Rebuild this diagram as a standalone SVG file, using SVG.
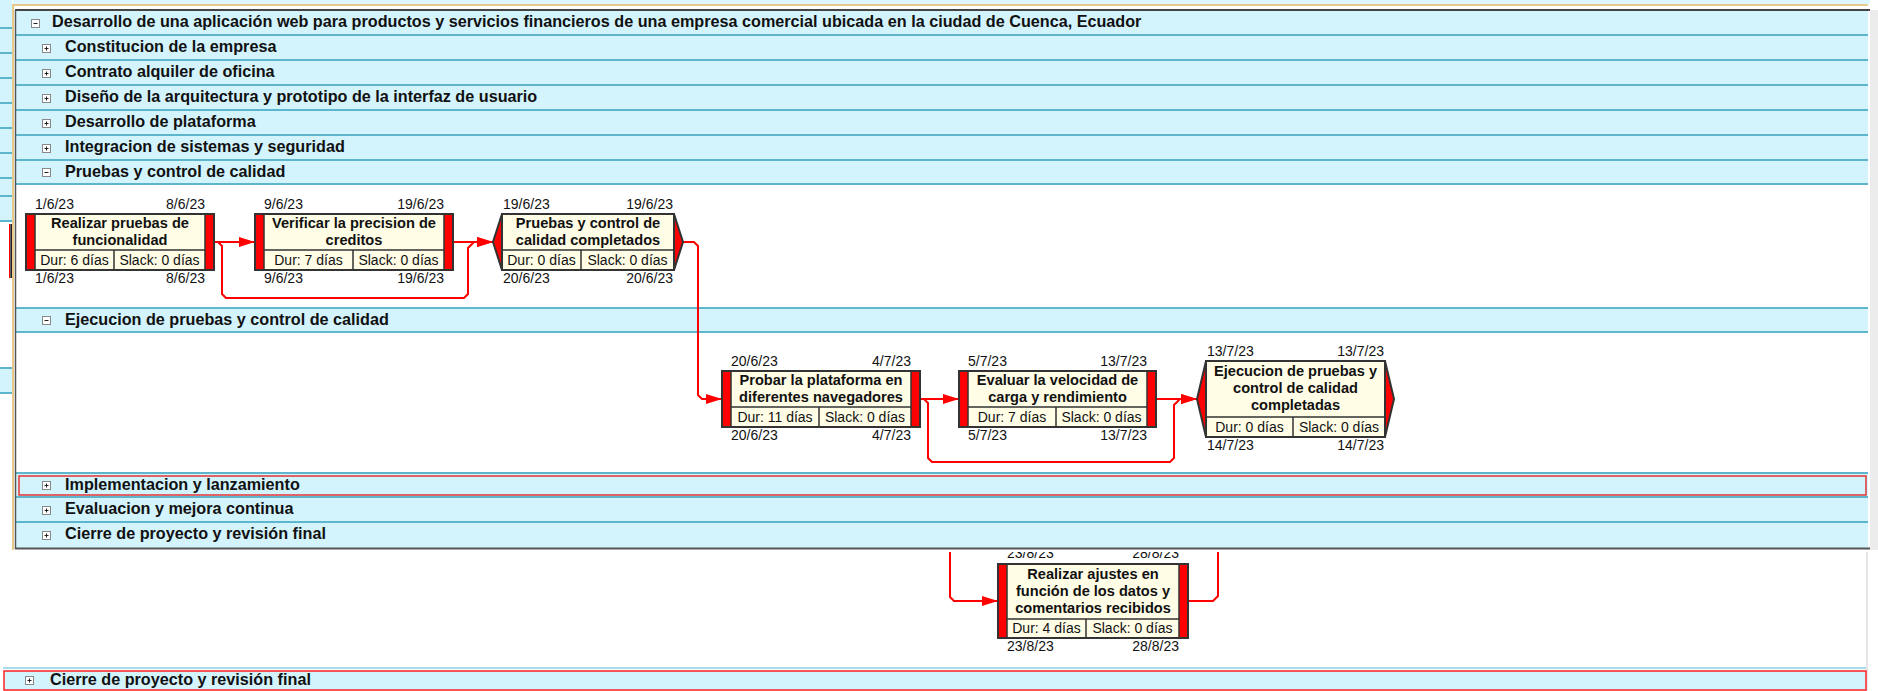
<svg xmlns="http://www.w3.org/2000/svg" width="1878" height="691" viewBox="0 0 1878 691">
<style>
.row{fill:#D3F4FD}
.sep{stroke:#5DB5CE;stroke-width:2;fill:none}
.lbl{font-family:"Liberation Sans",Arial,sans-serif;font-weight:bold;font-size:16.2px;fill:#111}
.box{fill:#FFFDE6;stroke:#333;stroke-width:2}
.frame{fill:none;stroke:#333;stroke-width:2}
.band{fill:#FF0000}
.ln{stroke:#333;stroke-width:1.5}
.ttl{font-family:"Liberation Sans",Arial,sans-serif;font-weight:bold;font-size:14.6px;fill:#111;text-anchor:middle}
.dt{font-family:"Liberation Sans",Arial,sans-serif;font-size:14px;fill:#111}
.r{text-anchor:end}
.c{text-anchor:middle}
.conn{fill:none;stroke:#FF0000;stroke-width:2}
</style>
<defs>
<marker id="ah" viewBox="0 0 16 10" refX="16" refY="5" markerWidth="16" markerHeight="10" markerUnits="userSpaceOnUse" orient="auto"><path d="M0,0 L16,5 L0,10 z" fill="#FF0000"/></marker>
<g id="plus"><rect x="0.5" y="0.5" width="8" height="8" fill="#fff" stroke="#888" stroke-width="1"/><path d="M2.5,4.5 H6.5 M4.5,2.5 V6.5" stroke="#222" stroke-width="1"/></g>
<g id="minus"><rect x="0.5" y="0.5" width="8" height="8" fill="#fff" stroke="#888" stroke-width="1"/><path d="M2.5,4.5 H6.5" stroke="#222" stroke-width="1"/></g>
<clipPath id="below"><rect x="0" y="552" width="1878" height="139"/></clipPath>
</defs>

<g id="background">
<rect x="0" y="0" width="1878" height="691" fill="#fff"/>
<rect x="13" y="0" width="1857" height="4" fill="#DDF5FC"/>
<rect x="0" y="0" width="12" height="221" fill="#D3F4FD"/>
<path d="M0,28 H12 M0,53 H12 M0,78 H12 M0,103 H12 M0,128 H12 M0,153 H12 M0,178 H12 M0,196 H12 M0,221 H12" class="sep"/>
<rect x="0" y="368" width="12" height="25" fill="#D3F4FD"/>
<path d="M0,368 H12 M0,393 H12" class="sep"/>
<path d="M9.5,224 V278" stroke="#FF0000" stroke-width="1"/>
<path d="M11.3,224 V278" stroke="#222" stroke-width="2"/>
<rect x="1870" y="10" width="8" height="540" fill="#ECECEC"/>
<path d="M1867,552 V691" stroke="#E6E6E6" stroke-width="2"/>
</g>

<g id="panel">
<rect x="15" y="10" width="1853" height="174" class="row"/>
<rect x="15" y="184" width="1853" height="124" fill="#fff"/>
<rect x="15" y="308" width="1853" height="24" class="row"/>
<rect x="15" y="332" width="1853" height="141" fill="#fff"/>
<rect x="15" y="473" width="1853" height="75" class="row"/>
<path d="M15,35 H1868 M15,60 H1868 M15,85 H1868 M15,110 H1868 M15,135 H1868 M15,160 H1868 M15,184 H1868 M15,308 H1868 M15,332 H1868 M15,473 H1868 M15,497 H1868 M15,522 H1868" class="sep"/>
<rect x="19" y="476" width="1847" height="19" fill="none" stroke="#E53333" stroke-width="1.5"/>
<path d="M13,5 H1868" stroke="#E8C98A" stroke-width="2"/>
<path d="M13,4 V550" stroke="#E8C98A" stroke-width="2"/>
<path d="M15,10 H1870" stroke="#444" stroke-width="2"/>
<path d="M15.5,10 V549" stroke="#555" stroke-width="1.5"/>
<path d="M15,548.5 H1870" stroke="#555" stroke-width="2"/>
</g>

<g id="row-proyecto"><use href="#minus" x="31" y="19"/><text x="52" y="27" class="lbl">Desarrollo de una aplicación web para productos y servicios financieros de una empresa comercial ubicada en la ciudad de Cuenca, Ecuador</text></g>
<g id="row-constitucion"><use href="#plus" x="42" y="44"/><text x="65" y="52" class="lbl">Constitucion de la empresa</text></g>
<g id="row-contrato"><use href="#plus" x="42" y="69"/><text x="65" y="77" class="lbl">Contrato alquiler de oficina</text></g>
<g id="row-diseno"><use href="#plus" x="42" y="94"/><text x="65" y="102" class="lbl">Diseño de la arquitectura y prototipo de la interfaz de usuario</text></g>
<g id="row-desarrollo"><use href="#plus" x="42" y="119"/><text x="65" y="127" class="lbl">Desarrollo de plataforma</text></g>
<g id="row-integracion"><use href="#plus" x="42" y="144"/><text x="65" y="152" class="lbl">Integracion de sistemas y seguridad</text></g>
<g id="row-pruebas"><use href="#minus" x="42" y="168"/><text x="65" y="177" class="lbl">Pruebas y control de calidad</text></g>
<g id="row-ejecucion"><use href="#minus" x="42" y="316"/><text x="65" y="325" class="lbl">Ejecucion de pruebas y control de calidad</text></g>
<g id="row-implementacion"><use href="#plus" x="42" y="481"/><text x="65" y="490" class="lbl">Implementacion y lanzamiento</text></g>
<g id="row-evaluacion"><use href="#plus" x="42" y="506"/><text x="65" y="514" class="lbl">Evaluacion y mejora continua</text></g>
<g id="row-cierre"><use href="#plus" x="42" y="531"/><text x="65" y="539" class="lbl">Cierre de proyecto y revisión final</text></g>

<g id="row-cierre-bottom">
<path d="M3,668 H1866" stroke="#A9DCEB" stroke-width="2"/>
<rect x="4" y="671" width="1862" height="19" class="row" stroke="#FF2020" stroke-width="1.5"/>
<use href="#plus" x="25" y="676"/>
<text x="50" y="685" class="lbl">Cierre de proyecto y revisión final</text>
</g>

<g id="connectors">
<path d="M214,242 H255" class="conn" marker-end="url(#ah)"/>
<path d="M214,242 H218 L222,246 V294 L226,298 H464 L468,294 V248 L474,242 H493" class="conn" marker-end="url(#ah)"/>
<path d="M453,242 H493" class="conn" marker-end="url(#ah)"/>
<path d="M683,242 H694 L698,246 V395 L702,399 H722" class="conn" marker-end="url(#ah)"/>
<path d="M920,399 H959" class="conn" marker-end="url(#ah)"/>
<path d="M920,399 H924 L928,403 V458 L932,462 H1170 L1174,458 V405 L1180,399 H1197" class="conn" marker-end="url(#ah)"/>
<path d="M1156,399 H1197" class="conn" marker-end="url(#ah)"/>
<path d="M950,552 V597 L954,601 H998" class="conn" marker-end="url(#ah)"/>
<path d="M1188,601 H1213 L1218,596 V552" class="conn"/>
</g>

<g id="node-realizar-pruebas">
<rect x="26" y="214" width="188" height="56" class="box"/>
<rect x="26" y="214" width="9" height="56" class="band"/>
<rect x="205" y="214" width="9" height="56" class="band"/>
<path d="M35,250 H205 M114,250 V270 M35,214 V270 M205,214 V270" class="ln"/>
<rect x="26" y="214" width="188" height="56" class="frame"/>
<text x="120" y="228" class="ttl">Realizar pruebas de</text>
<text x="120" y="245" class="ttl">funcionalidad</text>
<text x="74.5" y="265" class="dt c">Dur: 6 días</text>
<text x="159.5" y="265" class="dt c">Slack: 0 días</text>
<text x="35" y="209" class="dt">1/6/23</text><text x="205" y="209" class="dt r">8/6/23</text>
<text x="35" y="283" class="dt">1/6/23</text><text x="205" y="283" class="dt r">8/6/23</text>
</g>

<g id="node-verificar">
<rect x="255" y="214" width="198" height="56" class="box"/>
<rect x="255" y="214" width="9" height="56" class="band"/>
<rect x="444" y="214" width="9" height="56" class="band"/>
<path d="M264,250 H444 M353,250 V270 M264,214 V270 M444,214 V270" class="ln"/>
<rect x="255" y="214" width="198" height="56" class="frame"/>
<text x="354" y="228" class="ttl">Verificar la precision de</text>
<text x="354" y="245" class="ttl">creditos</text>
<text x="308.5" y="265" class="dt c">Dur: 7 días</text>
<text x="398.5" y="265" class="dt c">Slack: 0 días</text>
<text x="264" y="209" class="dt">9/6/23</text><text x="444" y="209" class="dt r">19/6/23</text>
<text x="264" y="283" class="dt">9/6/23</text><text x="444" y="283" class="dt r">19/6/23</text>
</g>

<g id="node-pruebas-completados">
<polygon points="502,214 674,214 683,242 674,270 502,270 493,242" fill="#FF0000" stroke="#333" stroke-width="2"/>
<rect x="502" y="214" width="172" height="56" class="box"/>
<path d="M502,250 H674 M581,250 V270" class="ln"/>
<text x="588" y="228" class="ttl">Pruebas y control de</text>
<text x="588" y="245" class="ttl">calidad completados</text>
<text x="541.5" y="265" class="dt c">Dur: 0 días</text>
<text x="627.5" y="265" class="dt c">Slack: 0 días</text>
<text x="503" y="209" class="dt">19/6/23</text><text x="673" y="209" class="dt r">19/6/23</text>
<text x="503" y="283" class="dt">20/6/23</text><text x="673" y="283" class="dt r">20/6/23</text>
</g>

<g id="node-probar">
<rect x="722" y="371" width="198" height="56" class="box"/>
<rect x="722" y="371" width="9" height="56" class="band"/>
<rect x="911" y="371" width="9" height="56" class="band"/>
<path d="M731,407 H911 M819,407 V427 M731,371 V427 M911,371 V427" class="ln"/>
<rect x="722" y="371" width="198" height="56" class="frame"/>
<text x="821" y="385" class="ttl">Probar la plataforma en</text>
<text x="821" y="402" class="ttl">diferentes navegadores</text>
<text x="775" y="422" class="dt c">Dur: 11 días</text>
<text x="865" y="422" class="dt c">Slack: 0 días</text>
<text x="731" y="366" class="dt">20/6/23</text><text x="911" y="366" class="dt r">4/7/23</text>
<text x="731" y="440" class="dt">20/6/23</text><text x="911" y="440" class="dt r">4/7/23</text>
</g>

<g id="node-evaluar">
<rect x="959" y="371" width="197" height="56" class="box"/>
<rect x="959" y="371" width="9" height="56" class="band"/>
<rect x="1147" y="371" width="9" height="56" class="band"/>
<path d="M968,407 H1147 M1056,407 V427 M968,371 V427 M1147,371 V427" class="ln"/>
<rect x="959" y="371" width="197" height="56" class="frame"/>
<text x="1057.5" y="385" class="ttl">Evaluar la velocidad de</text>
<text x="1057.5" y="402" class="ttl">carga y rendimiento</text>
<text x="1012" y="422" class="dt c">Dur: 7 días</text>
<text x="1101.5" y="422" class="dt c">Slack: 0 días</text>
<text x="968" y="366" class="dt">5/7/23</text><text x="1147" y="366" class="dt r">13/7/23</text>
<text x="968" y="440" class="dt">5/7/23</text><text x="1147" y="440" class="dt r">13/7/23</text>
</g>

<g id="node-ejecucion-completadas">
<polygon points="1206,361 1385,361 1394,399 1385,437 1206,437 1197,399" fill="#FF0000" stroke="#333" stroke-width="2"/>
<rect x="1206" y="361" width="179" height="76" class="box"/>
<path d="M1206,417 H1385 M1293,417 V437" class="ln"/>
<text x="1295.5" y="376" class="ttl">Ejecucion de pruebas y</text>
<text x="1295.5" y="393" class="ttl">control de calidad</text>
<text x="1295.5" y="410" class="ttl">completadas</text>
<text x="1249.5" y="432" class="dt c">Dur: 0 días</text>
<text x="1339" y="432" class="dt c">Slack: 0 días</text>
<text x="1207" y="356" class="dt">13/7/23</text><text x="1384" y="356" class="dt r">13/7/23</text>
<text x="1207" y="450" class="dt">14/7/23</text><text x="1384" y="450" class="dt r">14/7/23</text>
</g>

<g id="node-realizar-ajustes">
<rect x="998" y="564" width="190" height="74" class="box"/>
<rect x="998" y="564" width="9" height="74" class="band"/>
<rect x="1179" y="564" width="9" height="74" class="band"/>
<path d="M1007,619 H1179 M1086,619 V638 M1007,564 V638 M1179,564 V638" class="ln"/>
<rect x="998" y="564" width="190" height="74" class="frame"/>
<text x="1093" y="579" class="ttl">Realizar ajustes en</text>
<text x="1093" y="596" class="ttl">función de los datos y</text>
<text x="1093" y="613" class="ttl">comentarios recibidos</text>
<text x="1046.5" y="633" class="dt c">Dur: 4 días</text>
<text x="1132.5" y="633" class="dt c">Slack: 0 días</text>
<g clip-path="url(#below)"><text x="1007" y="558" class="dt">23/8/23</text><text x="1179" y="558" class="dt r">28/8/23</text></g>
<text x="1007" y="651" class="dt">23/8/23</text><text x="1179" y="651" class="dt r">28/8/23</text>
</g>
</svg>
